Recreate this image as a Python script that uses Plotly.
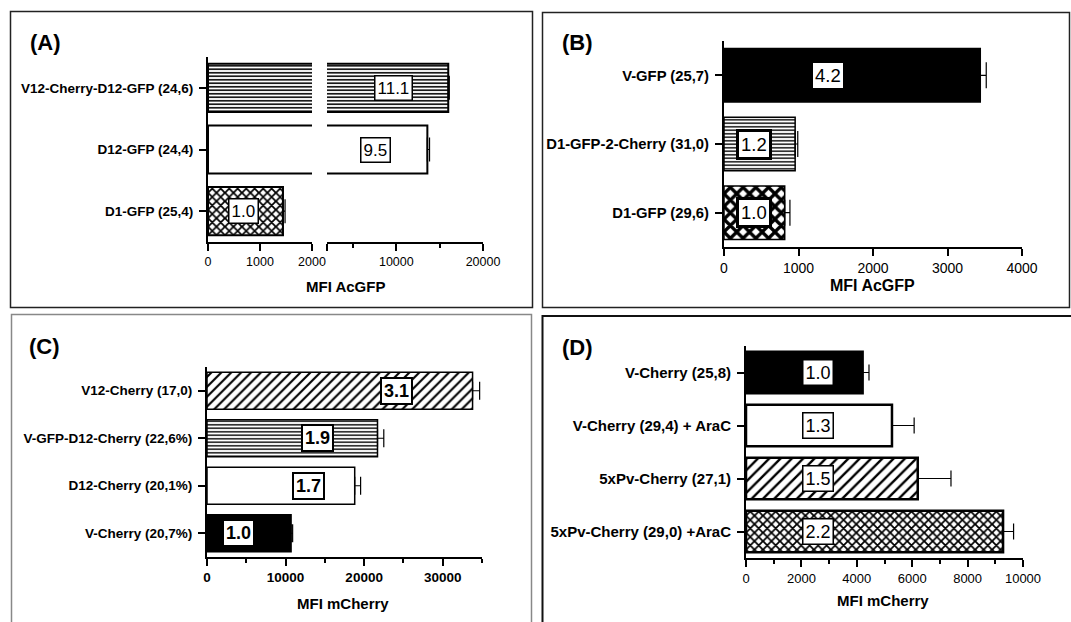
import plotly.graph_objects as go

# ---------------- data ----------------
cats_A = ["V12-Cherry-D12-GFP (24,6)", "D12-GFP (24,4)", "D1-GFP (25,4)"]
mfi_A = [15990, 13580, 1442]
err_A = [120, 250, 40]
fold_A = ["11.1", "9.5", "1.0"]

cats_B = ["V-GFP (25,7)", "D1-GFP-2-Cherry (31,0)", "D1-GFP (29,6)"]
mfi_B = [3440, 955, 815]
err_B = [80, 35, 70]
fold_B = ["4.2", "1.2", "1.0"]

cats_C = ["V12-Cherry (17,0)", "V-GFP-D12-Cherry (22,6%)", "D12-Cherry (20,1%)", "V-Cherry (20,7%)"]
mfi_C = [33800, 21700, 18800, 10700]
err_C = [900, 800, 750, 200]
fold_C = ["3.1", "1.9", "1.7", "1.0"]

cats_D = ["V-Cherry (25,8)", "V-Cherry (29,4) + AraC", "5xPv-Cherry (27,1)", "5xPv-Cherry (29,0) +AraC"]
mfi_D = [4210, 5270, 6200, 9280]
err_D = [230, 800, 1200, 380]
fold_D = ["1.0", "1.3", "1.5", "2.2"]

# label positions (data units along x)
foldpos_A = [9730, 7540, 692]
foldref_A = ["x2", "x2", "x"]
foldpos_B = [1396, 403, 403]
foldpos_C = [24170, 14120, 12980, 4070]
foldpos_D = [2600, 2600, 2600, 2600]

W, H = 1071, 622
FONT = "Liberation Sans, Arial, Helvetica, sans-serif"


def px(x):
    return x / W


def py(y):
    return 1 - y / H


fig = go.Figure()


def add_bars(cats, vals, errs, xa, ya, styles, lw, capw):
    # one trace per bar so every bar can carry its own fill pattern
    for c, v, e, st in zip(cats, vals, errs, styles):
        shape, color, size, solid = st
        marker = dict(color=color, line=dict(color="black", width=lw))
        if shape:
            marker["pattern"] = dict(shape=shape, size=size, solidity=solid,
                                     fgcolor="black", bgcolor="white")
        fig.add_trace(go.Bar(
            y=[c], x=[v], orientation="h", xaxis=xa, yaxis=ya, marker=marker,
            error_x=dict(type="data", array=[e], arrayminus=[0], symmetric=False,
                         color="black", thickness=1.2, width=capw),
            showlegend=False, hoverinfo="skip",
        ))


# styles: (pattern shape, base colour, pattern size, solidity)
styles_A = [("-", "white", 3.5, 0.45), ("", "white", 0, 0), ("x", "white", 6, 0.5)]
styles_B = [("", "black", 0, 0), ("-", "white", 3.5, 0.4), ("x", "white", 9, 0.6)]
styles_C = [("/", "white", 7, 0.3), ("-", "white", 3.5, 0.4), ("", "white", 0, 0), ("", "black", 0, 0)]
styles_D = [("", "black", 0, 0), ("", "white", 0, 0), ("/", "white", 8, 0.3), ("x", "white", 6, 0.5)]

# Panel A (broken axis: two segments)
for xa in ["x", "x2"]:
    add_bars(cats_A, mfi_A, err_A, xa, "y", styles_A, 2, 12)
add_bars(cats_B, mfi_B, err_B, "x3", "y2", styles_B, 1.5, 13)
add_bars(cats_C, mfi_C, err_C, "x4", "y3", styles_C, 1.5, 9)
add_bars(cats_D, mfi_D, err_D, "x5", "y4", styles_D, 2.5, 8)

axis_common = dict(showline=True, linecolor="black", linewidth=2, ticks="outside",
                   ticklen=7, tickwidth=2, tickcolor="black", showgrid=False, zeroline=False,
                   fixedrange=True, automargin=False)


def xax(domain, rng, anchor, tickvals, ticktext=None, minor=None, fsize=13, bold=False):
    d = dict(axis_common)
    d.update(domain=[px(domain[0]), px(domain[1])], range=rng, anchor=anchor,
             tickmode="array", tickvals=tickvals, tickformat="d",
             tickfont=dict(family=FONT, size=fsize, color="black",
                           weight="bold" if bold else "normal"))
    if ticktext is not None:
        d["ticktext"] = ticktext
    if minor is not None:
        d["minor"] = dict(tickmode="array", tickvals=minor, ticks="outside", ticklen=4,
                          tickwidth=2, tickcolor="black", showgrid=False)
    return d


def yax(domain, n, anchor, fsize):
    d = dict(axis_common)
    d.update(domain=[py(domain[1]), py(domain[0])], type="category",
             range=[n - 0.5, -0.5], anchor=anchor, ticklabelstandoff=3,
             tickfont=dict(family=FONT, size=fsize, color="black", weight="bold"))
    return d


fig.update_layout(
    template="none",
    width=W, height=H, autosize=False,
    margin=dict(l=0, r=0, t=0, b=0, autoexpand=False),
    paper_bgcolor="white", plot_bgcolor="rgba(0,0,0,0)",
    barmode="overlay", bargap=0.22, showlegend=False,
    font=dict(family=FONT, color="black"),
    xaxis=xax([208, 312], [0, 2000], "y", [0, 1000, 2000], fsize=12.5),
    xaxis2=xax([327, 483], [2000, 20000], "y", [2000, 10000, 20000],
               ticktext=["", "10000", "20000"], minor=[5000, 15000], fsize=12.5),
    yaxis=yax([57, 242], 3, "x", 13.5),
    xaxis3=xax([724, 1022], [0, 4000], "y2", [0, 1000, 2000, 3000, 4000], fsize=14),
    yaxis2=yax([41, 247], 3, "x3", 14.8),
    xaxis4=xax([207, 482], [0, 35000], "y3", [0, 10000, 20000, 30000],
               minor=[5000, 15000, 25000, 35000], fsize=13.5, bold=True),
    yaxis3=yax([367, 557], 4, "x4", 13.5),
    xaxis5=xax([746, 1023], [0, 10000], "y4", [0, 2000, 4000, 6000, 8000, 10000],
               minor=[1000, 3000, 5000, 7000, 9000], fsize=13),
    yaxis4=yax([346, 558], 4, "x5", 15),
)

ann = []


def fold_labels(cats, labels, xs, xrefs, yref, size, bw, bold=False):
    for c, t, x, xr in zip(cats, labels, xs, xrefs):
        ann.append(dict(x=x, y=c, xref=xr, yref=yref, text=t, showarrow=False,
                        xanchor="center", yanchor="middle",
                        font=dict(family=FONT, size=size, color="black",
                                  weight="bold" if bold else "normal"),
                        bgcolor="white", bordercolor="black", borderwidth=bw, borderpad=2))


fold_labels(cats_A, fold_A, foldpos_A, foldref_A, "y", 17, 1.5)
fold_labels(cats_B[:1], fold_B[:1], foldpos_B[:1], ["x3"], "y2", 18.5, 1)
fold_labels(cats_B[1:], fold_B[1:], foldpos_B[1:], ["x3", "x3"], "y2", 18.5, 3)
fold_labels(cats_C, fold_C, foldpos_C, ["x4"] * 4, "y3", 18, 2, bold=True)
fold_labels(cats_D, fold_D, foldpos_D, ["x5"] * 4, "y4", 18, 1.5)

# panel letters and axis titles
for t, x, y in [("(A)", 45, 43), ("(B)", 577, 43), ("(C)", 44, 346), ("(D)", 577, 347)]:
    ann.append(dict(x=px(x), y=py(y), xref="paper", yref="paper", text=t, showarrow=False,
                    xanchor="center", yanchor="middle",
                    font=dict(family=FONT, size=22, color="black", weight="bold")))
for t, x, y, s in [("MFI AcGFP", 345, 287, 15), ("MFI AcGFP", 872, 285, 16),
                   ("MFI mCherry", 343, 603, 15), ("MFI mCherry", 883, 600, 15)]:
    ann.append(dict(x=px(x), y=py(y), xref="paper", yref="paper", text=t, showarrow=False,
                    xanchor="center", yanchor="middle",
                    font=dict(family=FONT, size=s, color="black", weight="bold")))
fig.update_layout(annotations=ann)

# panel frames (only sides that lie inside the picture)
frames = [
    ("M 10.5 11.5 L 532.5 11.5 L 532.5 307.5 L 10.5 307.5 Z", "#222", 1.5),
    ("M 542.5 12.5 L 1069.5 12.5 L 1069.5 307.5 L 542.5 307.5 Z", "#222", 1.5),
    ("M 11.5 622 L 11.5 314.5 L 531.5 314.5 L 531.5 622", "#888", 1.5),
    ("M 542.5 622 L 542.5 316 L 1071 316", "#111", 2),
]


def to_paper_path(p):
    out = []
    toks = p.split()
    i = 0
    while i < len(toks):
        t = toks[i]
        if t in ("M", "L"):
            x = float(toks[i + 1]) / W
            y = 1 - float(toks[i + 2]) / H
            out.append(f"{t} {x:.6f} {y:.6f}")
            i += 3
        else:
            out.append(t)
            i += 1
    return " ".join(out)


for p, c, w in frames:
    fig.add_shape(type="path", xref="paper", yref="paper", path=to_paper_path(p),
                  line=dict(color=c, width=w), layer="above")

fig.write_html("out.html",
               config={"displayModeBar": False, "responsive": False},
               post_script="document.body.style.margin='0';document.body.style.overflow='hidden';")
